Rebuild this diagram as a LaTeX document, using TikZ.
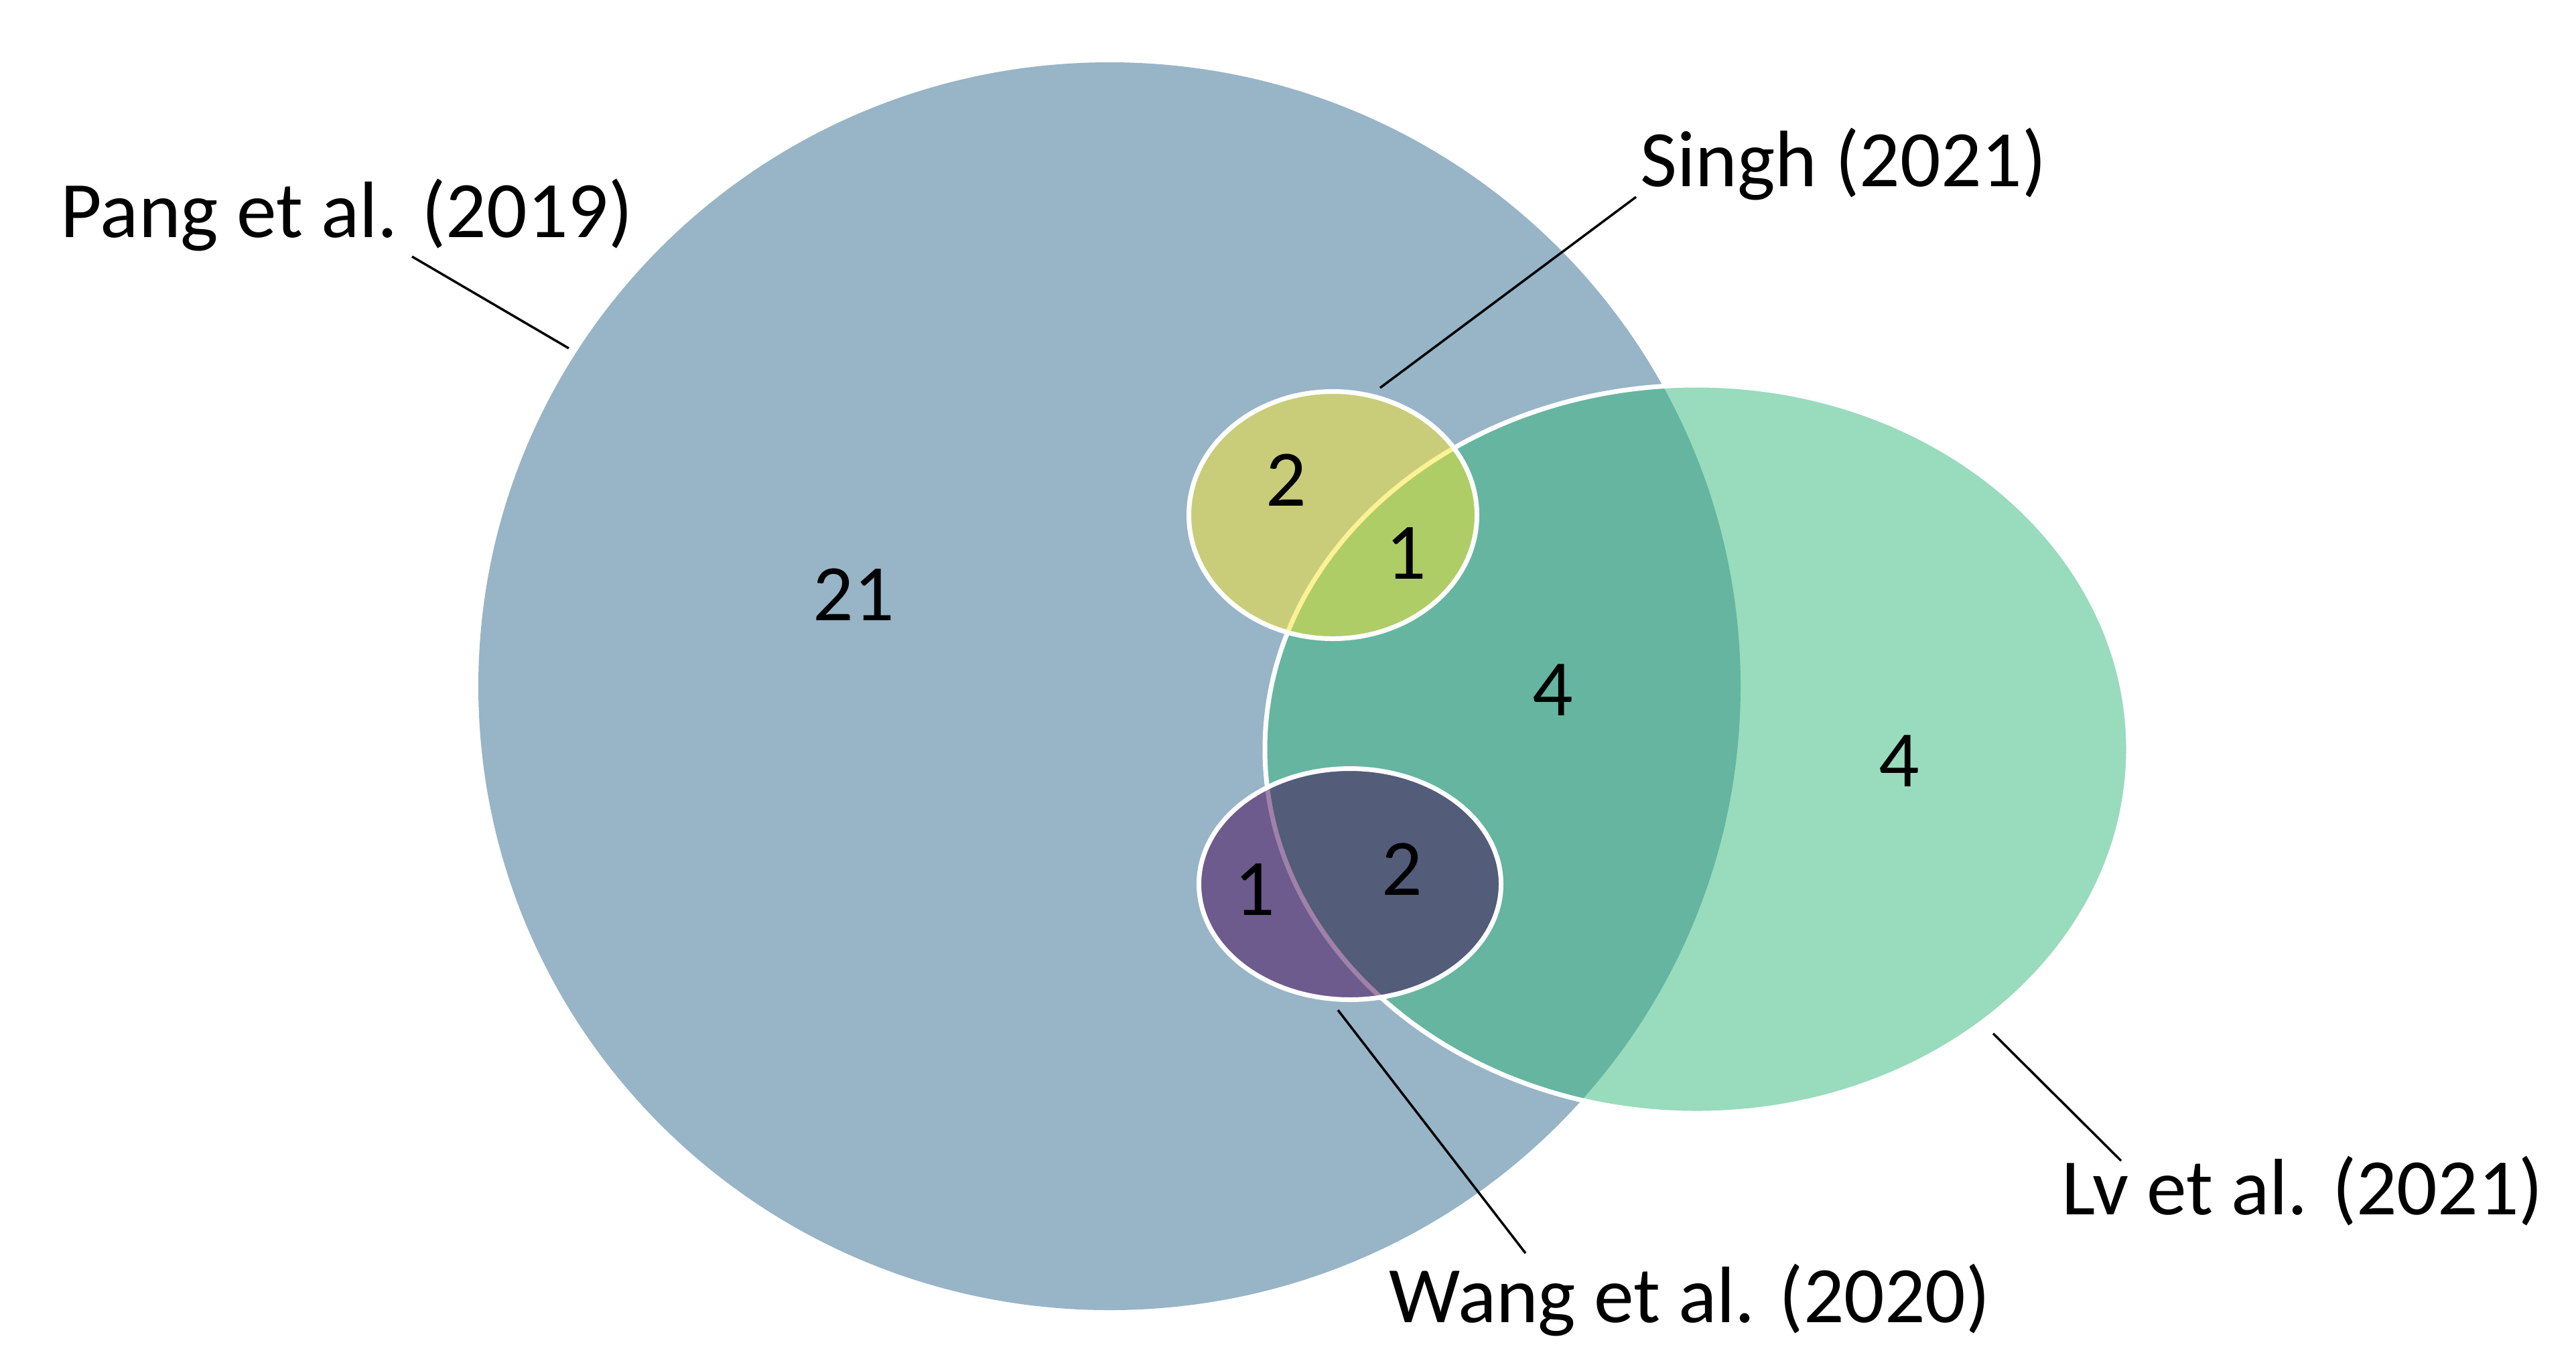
\documentclass[tikz,border=0pt]{standalone}
\usepackage{fontspec}
\setmainfont{Carlito}
\usetikzlibrary{shapes.geometric}
\definecolor{pangc}{RGB}{152,180,199}
\definecolor{lvc}{RGB}{51,183,123}
\definecolor{singhc}{RGB}{250,230,45}
\definecolor{wangc}{RGB}{66,4,83}
\tikzset{
  setshape/.style={ellipse, inner sep=0pt, outer sep=0pt},
  overlay set/.style={setshape, draw=white, line width=0.07cm, fill opacity=0.5},
  setlabel/.style={anchor=base west, inner sep=0pt, font=\fontsize{34}{40}\selectfont},
  count/.style={inner sep=0pt, font=\fontsize{34}{40}\selectfont},
  leader/.style={draw=black, line width=0.035cm}
}
\begin{document}
\begin{tikzpicture}
\useasboundingbox (0,0) rectangle (38.45,-20.25);
% sets
\node[setshape, fill=pangc, minimum width=18.84cm, minimum height=18.63cm] (pang) at (16.56,-10.245) {};
\node[overlay set, fill=lvc, minimum width=12.89cm, minimum height=10.87cm] (lv) at (25.325,-11.185) {};
\node[overlay set, fill=singhc, minimum width=4.30cm, minimum height=3.69cm] (singh) at (19.895,-7.69) {};
\node[overlay set, fill=wangc, minimum width=4.51cm, minimum height=3.45cm] (wang) at (20.15,-13.20) {};
% counts
\node[count] (n21) at (12.74,-8.88) {21};
\node[count] (ns2) at (19.20,-7.17) {2};
\node[count] (ns1) at (20.99,-8.26) {1};
\node[count] (npl) at (23.18,-10.30) {4};
\node[count] (nlv) at (28.35,-11.36) {4};
\node[count] (nw1) at (18.73,-13.28) {1};
\node[count] (nw2) at (20.93,-12.98) {2};
% labels
\node[setlabel] (lpang) at (0.90,-3.54) {Pang et al. (2019)};
\node[setlabel] (lsingh) at (24.48,-2.78) {Singh (2021)};
\node[setlabel] (llv) at (30.77,-18.13) {Lv et al. (2021)};
\node[setlabel] (lwang) at (20.73,-19.74) {Wang et al. (2020)};
% leader ends
\coordinate (pangA) at (6.15,-3.83);
\coordinate (pangB) at (8.49,-5.20);
\coordinate (singhA) at (24.42,-2.94);
\coordinate (singhB) at (20.60,-5.79);
\coordinate (lvA) at (29.75,-15.43);
\coordinate (lvB) at (31.66,-17.33);
\coordinate (wangA) at (19.97,-15.08);
\coordinate (wangB) at (22.77,-18.71);
\draw[leader] (pangA) -- (pangB);
\draw[leader] (singhA) -- (singhB);
\draw[leader] (lvA) -- (lvB);
\draw[leader] (wangA) -- (wangB);
\end{tikzpicture}
\end{document}
